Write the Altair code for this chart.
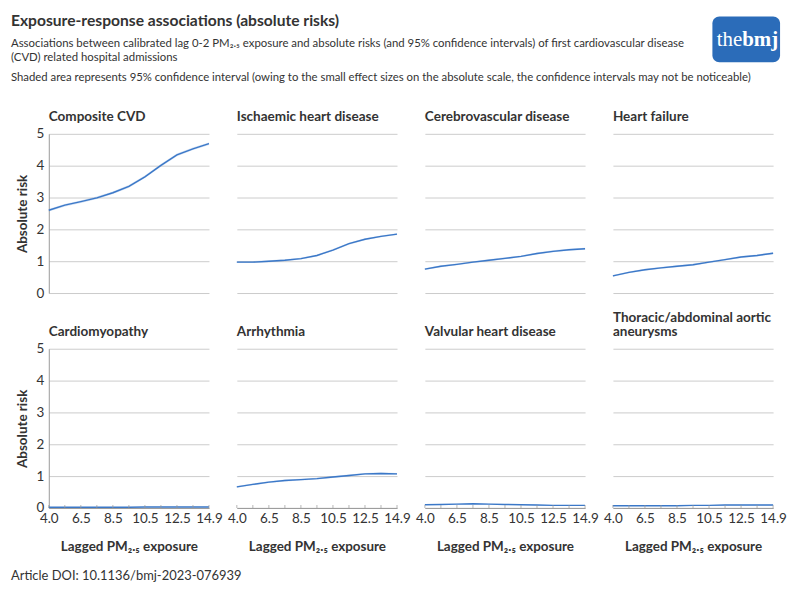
import altair as alt
import pandas as pd

FONT = "Lato"
TXT = "#333333"
LINE = "#3b78c8"

x_labels = ["4.0", "5.5", "6.5", "7.5", "8.5", "9.5", "10.5", "11.5", "12.5", "13.5", "14.9"]
shown_labels = ["4.0", "6.5", "8.5", "10.5", "12.5", "14.9"]

diseases = [
    "Composite CVD", "Ischaemic heart disease", "Cerebrovascular disease", "Heart failure",
    "Cardiomyopathy", "Arrhythmia", "Valvular heart disease", "Thoracic/abdominal aortic aneurysms",
]
composite = [2.60, 2.76, 2.87, 2.99, 3.15, 3.35, 3.65, 4.01, 4.34, 4.53, 4.69]
ischaemic = [0.97, 0.97, 1.00, 1.03, 1.08, 1.18, 1.35, 1.55, 1.69, 1.78, 1.85]
cerebro = [0.75, 0.84, 0.90, 0.97, 1.03, 1.09, 1.15, 1.24, 1.31, 1.36, 1.39]
heart_failure = [0.54, 0.65, 0.73, 0.79, 0.84, 0.89, 0.97, 1.05, 1.13, 1.18, 1.25]
cardiomyopathy = [0.02, 0.02, 0.02, 0.02, 0.02, 0.02, 0.03, 0.03, 0.03, 0.03, 0.03]
arrhythmia = [0.66, 0.74, 0.81, 0.86, 0.89, 0.92, 0.97, 1.02, 1.07, 1.08, 1.07]
valvular = [0.10, 0.11, 0.12, 0.13, 0.12, 0.11, 0.10, 0.09, 0.08, 0.08, 0.08]
thoracic = [0.07, 0.07, 0.07, 0.07, 0.07, 0.08, 0.08, 0.09, 0.09, 0.09, 0.09]
ci_half = [0.04, 0.03, 0.03, 0.03, 0.01, 0.03, 0.01, 0.01]

series = [composite, ischaemic, cerebro, heart_failure, cardiomyopathy, arrhythmia, valvular, thoracic]
panel_titles = [
    ["Composite CVD"], ["Ischaemic heart disease"], ["Cerebrovascular disease"], ["Heart failure"],
    ["Cardiomyopathy"], ["Arrhythmia"], ["Valvular heart disease"],
    ["Thoracic/abdominal aortic", "aneurysms"],
]

title_text = "Exposure-response associations (absolute risks)"
sub1 = "Associations between calibrated lag 0-2 PM\u2082.\u2085 exposure and absolute risks (and 95% confidence intervals) of first cardiovascular disease"
sub2 = "(CVD) related hospital admissions"
sub3 = "Shaded area represents 95% confidence interval (owing to the small effect sizes on the absolute scale, the confidence intervals may not be noticeable)"
footer = "Article DOI: 10.1136/bmj-2023-076939"
x_title = "Lagged PM\u2082.\u2085 exposure"

W, H = 161, 160
label_expr = "indexof(" + str(shown_labels) + ", datum.label) >= 0 ? datum.label : ''"


def txt(text, x, y, size, weight="normal", align="left", baseline="alphabetic", color=TXT, font=FONT):
    return alt.Chart(pd.DataFrame({"k": [0]})).mark_text(
        text=text, font=font, fontSize=size, fontWeight=weight, color=color,
        align=align, baseline=baseline).encode(x=alt.value(x), y=alt.value(y))


panels = []
for i, (name, vals) in enumerate(zip(diseases, series)):
    df = pd.DataFrame({
        "x": x_labels, "y": vals,
        "lo": [v - ci_half[i] for v in vals], "hi": [v + ci_half[i] for v in vals],
    })
    bottom = i >= 4
    first = i % 4 == 0
    if bottom:
        xaxis = alt.Axis(title=x_title, labelExpr=label_expr, labelAngle=0, ticks=False,
                         domainColor="#999999", labelFontSize=13.5, labelColor=TXT, labelPadding=4,
                         titleFontSize=13.5, titleFontWeight="bold", titleColor=TXT, titlePadding=14,
                         labelFont=FONT, titleFont=FONT, grid=False)
    else:
        xaxis = None
    if first:
        yaxis = alt.Axis(title="Absolute risk", values=[0, 1, 2, 3, 4, 5], ticks=False,
                         domainColor="#999999", gridColor="#cccccc", labelFontSize=13.5,
                         labelColor=TXT, labelPadding=5, titleFontSize=13.5, titleFontWeight="bold",
                         titleColor=TXT, titlePadding=7, labelFont=FONT, titleFont=FONT)
    else:
        yaxis = alt.Axis(title=None, values=[0, 1, 2, 3, 4, 5], ticks=False, labels=False,
                         domain=False, gridColor="#cccccc")
    xenc = alt.X("x:O", sort=x_labels, scale=alt.Scale(type="point", padding=0), axis=xaxis)
    ysc = alt.Scale(domain=[0, 5], nice=False)
    base = alt.Chart(df)
    area = base.mark_area(color=LINE, opacity=0.25).encode(
        x=xenc, y=alt.Y("lo:Q", scale=ysc, axis=yaxis), y2="hi:Q")
    line = base.mark_line(color=LINE, strokeWidth=1.4).encode(
        x=xenc, y=alt.Y("y:Q", scale=ysc, axis=yaxis))
    layers = [area, line]
    if bottom:
        ticks = base.mark_tick(color="#999999", thickness=1, size=6).encode(
            x=xenc, y=alt.value(H - 3))
        layers.append(ticks)
    pt = panel_titles[i]
    for j, t in enumerate(pt):
        layers.append(txt(t, 0, -12.5 - 14.5 * (len(pt) - 1 - j), 13.6, weight="bold"))
    if i == 0:
        layers += [
            txt(title_text, -38, -108.5, 15.7, weight="bold"),
            txt(sub1, -38, -87.5, 11.45),
            txt(sub2, -38, -73, 11.45),
            txt(sub3, -38, -53.5, 11.4),
            alt.Chart(pd.DataFrame({"k": [0]})).mark_rect(color="#2b6cb9", cornerRadius=7).encode(
                x=alt.value(667), x2=alt.value(735), y=alt.value(-118), y2=alt.value(-72)),
            txt("the", 697, -94, 21, align="right", baseline="middle", color="white",
                font="Liberation Serif"),
            txt("bmj", 697, -94, 21, weight="bold", baseline="middle", color="white",
                font="Liberation Serif"),
            txt(footer, -38, 448, 13),
        ]
    panel = alt.layer(*layers).properties(width=W, height=H)
    panels.append(panel)

chart = alt.concat(*panels, columns=4, bounds="flush").properties(
    padding={"left": 3, "top": 3, "right": 5, "bottom": 5}
).configure_view(stroke=None)
chart.spacing = alt.RowColnumber(row=56, column=28)

chart.save("out.html", embed_options={"renderer": "svg", "actions": False})
